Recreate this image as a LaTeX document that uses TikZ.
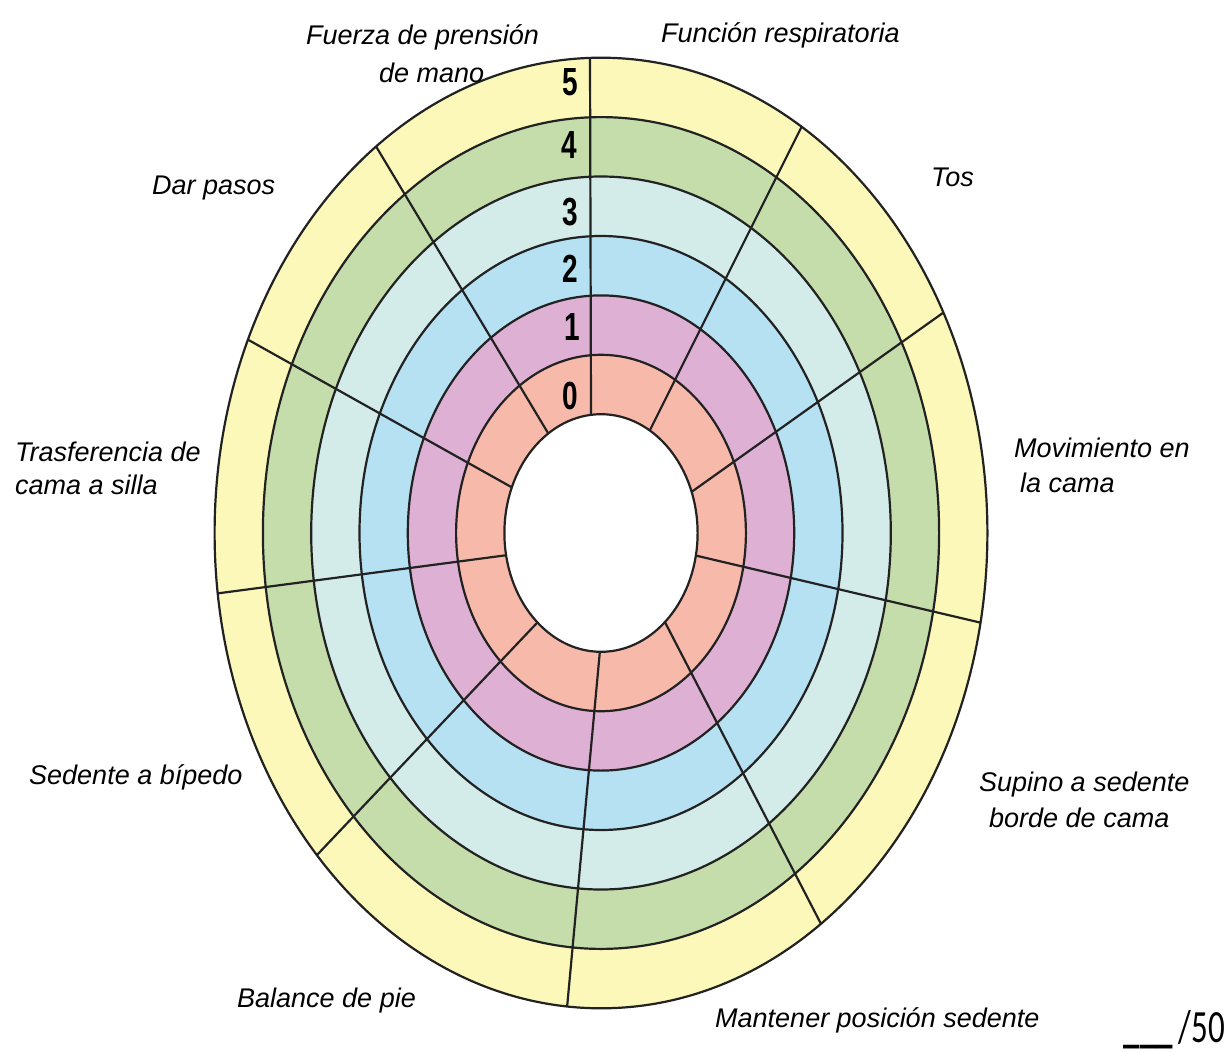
\documentclass[tikz,border=0pt]{standalone}
\usepackage{fontspec}
\setmainfont{Liberation Sans}
\newfontfamily\scorefont{Carlito}
\definecolor{salmonR}{HTML}{F7B9A9}
\definecolor{pinkR}{HTML}{DDB0D4}
\definecolor{blueR}{HTML}{B5E1F3}
\definecolor{cyanR}{HTML}{D3ECEA}
\definecolor{greenR}{HTML}{C5DDAB}
\definecolor{yellowR}{HTML}{FBF8BA}
\definecolor{inkR}{HTML}{222222}
\begin{document}
\begin{tikzpicture}[x=1pt,y=-1pt,
  ringline/.style={draw=inkR, line width=2.2pt},
  spoke/.style={draw=inkR, line width=2.2pt, shorten <=-15pt, shorten >=-15pt},
  lbl/.style={font=\fontsize{27}{30}\selectfont\itshape, anchor=base west, inner sep=0pt},
  num/.style={font=\fontsize{28}{30}\selectfont\bfseries, inner sep=0pt}]
\useasboundingbox (0,0) rectangle (1226,1052);
\fill[white] (0,0) rectangle (1226,1052);
\coordinate (O) at (601,533);
% rings
\fill[yellowR] (O) ellipse [x radius=386.4pt, y radius=475.3pt];
\fill[greenR]  (O) ellipse [x radius=338.1pt, y radius=415.9pt];
\fill[cyanR]   (O) ellipse [x radius=289.8pt, y radius=356.5pt];
\fill[blueR]   (O) ellipse [x radius=241.5pt, y radius=297pt];
\fill[pinkR]   (O) ellipse [x radius=193.2pt, y radius=237.6pt];
\fill[salmonR] (O) ellipse [x radius=144.9pt, y radius=178.2pt];
% spokes
\coordinate (a1) at (591,413); \coordinate (a2) at (590,58);
\coordinate (b1) at (651,428); \coordinate (b2) at (801,128);
\coordinate (c1) at (697,488); \coordinate (c2) at (940,315);
\coordinate (d1) at (702,557); \coordinate (d2) at (982,623);
\coordinate (e1) at (668,628); \coordinate (e2) at (820,922);
\coordinate (f1) at (600,650); \coordinate (f2) at (567,1008);
\coordinate (g1) at (535,625); \coordinate (g2) at (317,855);
\coordinate (h1) at (508,555); \coordinate (h2) at (213,594);
\coordinate (i1) at (513,488); \coordinate (i2) at (245,338);
\coordinate (j1) at (548,433); \coordinate (j2) at (377,148);
\begin{scope}
\clip (O) ellipse [x radius=386.4pt, y radius=475.3pt];
\foreach \s in {a,b,c,d,e,f,g,h,i,j}{\draw[spoke] (\s1) -- (\s2);}
\end{scope}
\fill[white] (O) ellipse [x radius=96.6pt, y radius=118.8pt];
% ring outlines
\draw[ringline] (O) ellipse [x radius=386.4pt, y radius=475.3pt];
\draw[ringline] (O) ellipse [x radius=338.1pt, y radius=415.9pt];
\draw[ringline] (O) ellipse [x radius=289.8pt, y radius=356.5pt];
\draw[ringline] (O) ellipse [x radius=241.5pt, y radius=297pt];
\draw[ringline] (O) ellipse [x radius=193.2pt, y radius=237.6pt];
\draw[ringline] (O) ellipse [x radius=144.9pt, y radius=178.2pt];
\draw[ringline] (O) ellipse [x radius=96.6pt, y radius=118.8pt];
% scale numbers
\node[num] (n5) at (570,82)  {\scalebox{1}[1.4]{5}};
\node[num] (n4) at (569,145) {\scalebox{1}[1.4]{4}};
\node[num] (n3) at (570,212) {\scalebox{1}[1.4]{3}};
\node[num] (n2) at (570,269) {\scalebox{1}[1.4]{2}};
\node[num] (n1) at (572,327) {\scalebox{1}[1.4]{1}};
\node[num] (n0) at (570,396) {\scalebox{1}[1.4]{0}};
% labels
\node[lbl] (l1a) at (306,44)  {Fuerza de prensión};
\node[lbl] (l1b) at (379,82)  {de mano};
\node[lbl] (l2)  at (661,42)  {Función respiratoria};
\node[lbl] (l3)  at (931,186) {Tos};
\node[lbl] (l4a) at (1014,457) {Movimiento en};
\node[lbl] (l4b) at (1020,492) {la cama};
\node[lbl] (l5a) at (979,791) {Supino a sedente};
\node[lbl] (l5b) at (989,827) {borde de cama};
\node[lbl] (l6)  at (715,1027) {Mantener posición sedente};
\node[lbl] (l7)  at (237,1007) {Balance de pie};
\node[lbl] (l8)  at (29,784)  {Sedente a bípedo};
\node[lbl] (l9a) at (15,461)  {Trasferencia de};
\node[lbl] (l9b) at (15,494)  {cama a silla};
\node[lbl] (l10) at (152,194) {Dar pasos};
\node[font=\scorefont\fontsize{33}{34}\selectfont, anchor=base east, inner sep=0pt] (score) at (1225,1042) {\scalebox{1}[1.4]{{\bfseries\_\_\_}\,/50}};
\end{tikzpicture}
\end{document}
